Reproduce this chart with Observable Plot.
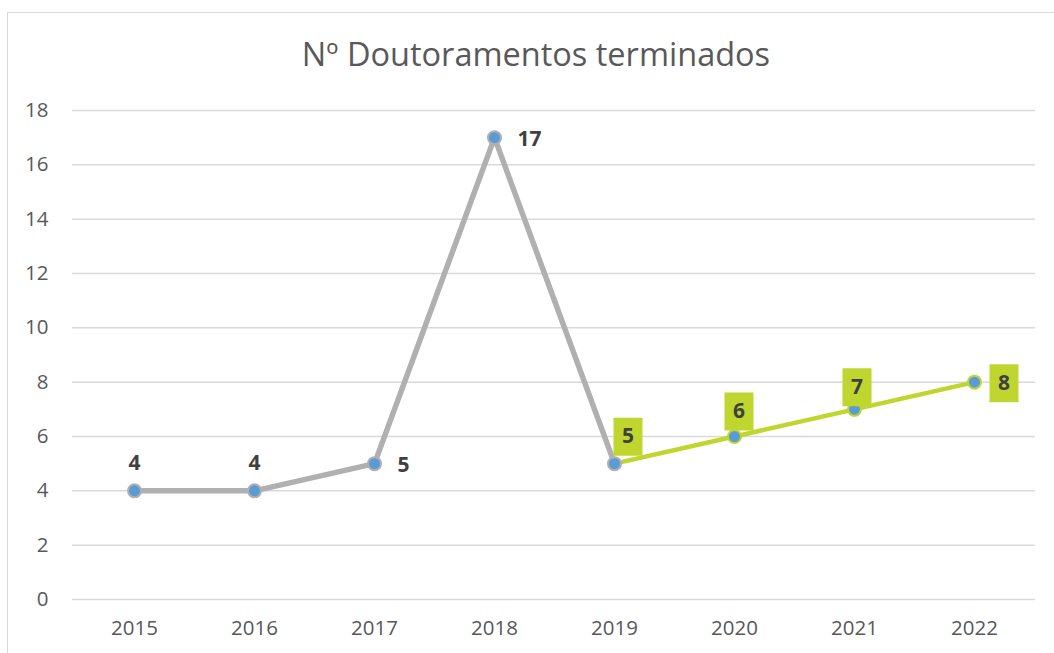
<!DOCTYPE html>
<html>
<head>
<meta charset="utf-8">
<script src="https://cdn.jsdelivr.net/npm/d3@7"></script>
<script src="https://cdn.jsdelivr.net/npm/@observablehq/plot@0.6"></script>
<style>
  html, body { margin: 0; padding: 0; background: #fff; overflow: hidden; width: 1054px; height: 653px; }
  #frame { position: absolute; left: 7px; top: 12px; width: 1200px; height: 800px; border: 1.5px solid #d9d9d9; }
  #title { position: absolute; left: 0; width: 1072px; top: 38px; line-height: 32px; text-align: center; font-family: "Open Sans", sans-serif; font-size: 32.5px; color: #595959; }
  #chart { position: absolute; left: 0; top: 0; }
</style>
</head>
<body>
<div id="frame"></div>
<div id="title">Nº Doutoramentos terminados</div>
<div id="chart"></div>
<script>
const years = ["2015", "2016", "2017", "2018", "2019", "2020", "2021", "2022"];
const values = [4, 4, 5, 17, 5, 6, 7, 8];
const yTicks = [0, 2, 4, 6, 8, 10, 12, 14, 16, 18];

const data = years.map((y, i) => ({year: y, value: values[i]}));
const grayData = data.slice(0, 5);
const greenData = data.slice(4);

const GRAY = "#b0b0b0";
const GREEN = "#bfd62f";
const BLUE = "#5b9bd5";
const LABEL = "#404040";

const box = { draw(context) { context.rect(-14.5, -19, 29, 38); } };

// label placements (style, not data)
const grayLabels = [
  {year: "2015", dx: 0, dy: -28, anchor: "middle"},
  {year: "2016", dx: 0, dy: -28, anchor: "middle"},
  {year: "2017", dx: 23, dy: 2, anchor: "start"},
  {year: "2018", dx: 23, dy: 2, anchor: "start"}
];
const greenLabels = [
  {year: "2019", dx: 13.5, dy: -27},
  {year: "2020", dx: 4.5, dy: -25},
  {year: "2021", dx: 2.5, dy: -22},
  {year: "2022", dx: 29.5, dy: 1}
];

const FONT = "Open Sans, sans-serif";
const marks = [
  Plot.ruleY(yTicks, {stroke: "#d9d9d9", strokeWidth: 1.5}),
  Plot.axisY({ticks: yTicks, tickSize: 0, tickPadding: 24, fontSize: 20.5, fill: "#595959", fontFamily: FONT, label: null}),
  Plot.axisX({tickSize: 0, tickPadding: 21, fontSize: 20.5, fill: "#595959", fontFamily: FONT, label: null}),
  Plot.line(greenData, {x: "year", y: "value", stroke: GREEN, strokeWidth: 4.5}),
  Plot.line(grayData, {x: "year", y: "value", stroke: GRAY, strokeWidth: 5.5, strokeLinejoin: "miter"}),
  Plot.dot(greenData.slice(1), {x: "year", y: "value", r: 6.5, fill: BLUE, stroke: GREEN, strokeWidth: 2}),
  Plot.dot(grayData, {x: "year", y: "value", r: 6.5, fill: BLUE, stroke: GRAY, strokeWidth: 2})
];

for (const L of grayLabels) {
  marks.push(Plot.text(data.filter(d => d.year === L.year), {
    x: "year", y: "value", text: d => String(d.value), dx: L.dx, dy: L.dy, textAnchor: L.anchor,
    fill: LABEL, fontSize: 21, fontWeight: "bold", fontFamily: FONT
  }));
}
for (const L of greenLabels) {
  const sub = data.filter(d => d.year === L.year);
  marks.push(Plot.dot(sub, {x: "year", y: "value", symbol: box, r: 5, fill: GREEN, stroke: "none", dx: L.dx, dy: L.dy}));
  marks.push(Plot.text(sub, {
    x: "year", y: "value", text: d => String(d.value), dx: L.dx, dy: L.dy, textAnchor: "middle",
    fill: LABEL, fontSize: 21, fontWeight: "bold", fontFamily: FONT
  }));
}

const chart = Plot.plot({
  width: 1054,
  height: 653,
  marginTop: 110,
  marginBottom: 54,
  marginLeft: 72,
  marginRight: 19,
  style: {background: "transparent", overflow: "visible"},
  x: {type: "point", domain: years, padding: 0.5, align: 0.5},
  y: {domain: [0, 18]},
  marks
});
document.getElementById("chart").appendChild(chart);
</script>
</body>
</html>
